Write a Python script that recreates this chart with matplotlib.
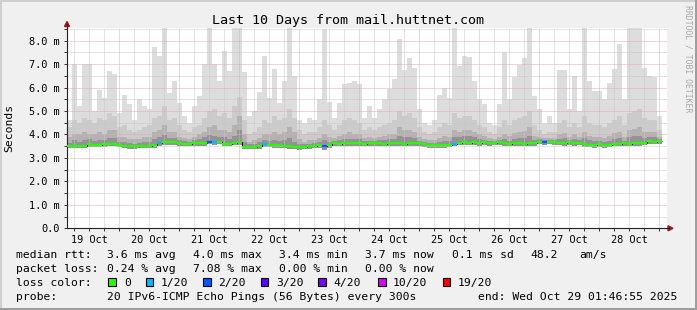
import numpy as np
import matplotlib.pyplot as plt
from matplotlib.patches import Rectangle, Polygon
from matplotlib.lines import Line2D

# ---- data (ms), 2-hour bins starting Oct 19 03:12 -------------------------
t0, step = 3.2, 2.0          # hours since Oct 19 00:00

median = [
    3.51, 3.51, 3.51, 3.51, 3.58, 3.57, 3.56, 3.58, 3.60, 3.60,
    3.57, 3.51, 3.50, 3.50, 3.51, 3.52, 3.52, 3.55, 3.64, 3.66,
    3.68, 3.66, 3.62, 3.60, 3.60, 3.63, 3.63, 3.64, 3.70, 3.68,
    3.70, 3.60, 3.60, 3.65, 3.70, 3.47, 3.47, 3.48, 3.50, 3.58,
    3.56, 3.55, 3.55, 3.53, 3.50, 3.47, 3.46, 3.48, 3.50, 3.52,
    3.55, 3.50, 3.55, 3.62, 3.60, 3.62, 3.62, 3.62, 3.63, 3.61,
    3.62, 3.64, 3.62, 3.60, 3.62, 3.63, 3.62, 3.61, 3.63, 3.62,
    3.62, 3.58, 3.55, 3.55, 3.54, 3.55, 3.57, 3.60, 3.65, 3.66,
    3.65, 3.67, 3.64, 3.66, 3.63, 3.65, 3.66, 3.62, 3.60, 3.64,
    3.62, 3.60, 3.63, 3.62, 3.70, 3.68, 3.70, 3.68, 3.65, 3.64,
    3.66, 3.62, 3.65, 3.58, 3.56, 3.55, 3.58, 3.55, 3.57, 3.60,
    3.60, 3.62, 3.60, 3.64, 3.62, 3.65, 3.72, 3.70, 3.72]

smoke_min = [
    3.41, 3.41, 3.42, 3.41, 3.47, 3.46, 3.45, 3.47, 3.49, 3.49,
    3.46, 3.41, 3.40, 3.40, 3.41, 3.42, 3.41, 3.44, 3.52, 3.55,
    3.57, 3.55, 3.51, 3.49, 3.50, 3.52, 3.52, 3.52, 3.58, 3.57,
    3.58, 3.49, 3.49, 3.54, 3.55, 3.37, 3.36, 3.38, 3.40, 3.47,
    3.45, 3.44, 3.44, 3.42, 3.39, 3.36, 3.35, 3.37, 3.39, 3.41,
    3.43, 3.34, 3.44, 3.51, 3.49, 3.51, 3.51, 3.51, 3.52, 3.50,
    3.51, 3.53, 3.51, 3.49, 3.51, 3.52, 3.51, 3.50, 3.52, 3.51,
    3.51, 3.47, 3.44, 3.44, 3.43, 3.44, 3.46, 3.49, 3.54, 3.55,
    3.54, 3.56, 3.53, 3.55, 3.52, 3.54, 3.55, 3.51, 3.49, 3.53,
    3.51, 3.49, 3.52, 3.51, 3.59, 3.57, 3.59, 3.57, 3.54, 3.53,
    3.55, 3.51, 3.54, 3.47, 3.45, 3.44, 3.47, 3.44, 3.46, 3.49,
    3.49, 3.51, 3.49, 3.53, 3.51, 3.54, 3.61, 3.59, 3.61]

smoke_p60 = [
    3.65, 3.75, 3.70, 3.78, 3.80, 3.72, 3.78, 3.75, 3.85, 3.85,
    3.68, 3.66, 3.62, 3.60, 3.64, 3.66, 3.68, 3.80, 3.88, 3.98,
    3.85, 3.86, 3.76, 3.72, 3.70, 3.76, 3.80, 3.88, 3.98, 3.95,
    3.90, 3.88, 3.82, 3.95, 4.20, 3.70, 3.58, 3.60, 3.66, 3.78,
    3.72, 3.78, 3.72, 3.75, 3.85, 3.70, 3.58, 3.58, 3.60, 3.62,
    3.70, 3.78, 3.68, 3.74, 3.76, 3.80, 3.82, 3.82, 3.80, 3.72,
    3.74, 3.74, 3.76, 3.76, 3.80, 3.82, 3.95, 3.88, 3.90, 3.85,
    3.74, 3.68, 3.64, 3.64, 3.68, 3.74, 3.72, 3.88, 3.88, 3.92,
    3.92, 3.88, 3.80, 3.78, 3.72, 3.72, 3.78, 3.82, 3.74, 3.80,
    3.84, 3.85, 3.92, 3.76, 3.80, 3.76, 3.78, 3.76, 3.82, 3.84,
    3.78, 3.82, 3.76, 3.85, 3.76, 3.72, 3.72, 3.70, 3.74, 3.80,
    3.85, 3.74, 3.90, 3.92, 3.95, 3.85, 3.90, 3.88, 3.82]

smoke_p75 = [
    3.90, 4.00, 4.00, 4.10, 4.00, 4.00, 4.10, 4.00, 4.20, 4.20,
    3.90, 3.90, 3.80, 3.80, 3.80, 3.90, 3.90, 4.10, 4.20, 4.40,
    4.10, 4.10, 3.90, 3.85, 3.80, 3.90, 4.00, 4.10, 4.30, 4.40,
    4.20, 4.20, 4.10, 4.40, 4.80, 4.00, 3.70, 3.75, 3.85, 4.00,
    4.00, 4.10, 4.00, 4.10, 4.30, 4.10, 3.80, 3.70, 3.75, 3.75,
    3.85, 4.00, 3.90, 3.85, 3.95, 4.00, 4.10, 4.00, 4.00, 3.85,
    3.90, 3.85, 3.90, 3.95, 4.00, 4.00, 4.30, 4.20, 4.20, 4.10,
    3.90, 3.80, 3.75, 3.75, 3.85, 3.95, 3.90, 4.20, 4.10, 4.20,
    4.20, 4.10, 4.00, 3.95, 3.85, 3.80, 3.90, 4.00, 3.95, 4.05,
    4.10, 4.15, 4.30, 3.95, 3.90, 3.85, 3.85, 3.85, 4.00, 4.05,
    3.90, 4.00, 3.90, 4.10, 3.95, 3.90, 3.90, 3.85, 3.95, 4.05,
    4.10, 3.90, 4.20, 4.25, 4.30, 4.10, 4.10, 4.10, 3.90]

smoke_p90 = [
    4.3, 4.6, 4.5, 4.7, 4.6, 4.5, 4.7, 4.6, 4.9, 4.8,
    4.3, 4.4, 4.2, 4.1, 4.2, 4.3, 4.4, 4.7, 4.8, 5.2,
    4.6, 4.7, 4.4, 4.2, 4.1, 4.3, 4.4, 4.7, 5.0, 5.1,
    4.8, 4.9, 4.7, 5.2, 5.6, 4.6, 4.0, 4.1, 4.3, 4.6,
    4.5, 4.8, 4.6, 4.7, 5.1, 4.7, 4.2, 4.0, 4.1, 4.1,
    4.3, 4.6, 4.4, 4.2, 4.4, 4.6, 4.7, 4.6, 4.5, 4.2,
    4.3, 4.2, 4.3, 4.4, 4.5, 4.6, 5.0, 4.8, 4.9, 4.7,
    4.3, 4.1, 4.0, 4.1, 4.3, 4.5, 4.4, 4.9, 4.7, 4.8,
    4.8, 4.6, 4.4, 4.3, 4.1, 4.0, 4.3, 4.6, 4.4, 4.6,
    4.7, 4.8, 5.0, 4.4, 4.2, 4.0, 4.1, 4.1, 4.5, 4.6,
    4.3, 4.5, 4.3, 4.8, 4.5, 4.4, 4.4, 4.3, 4.5, 4.6,
    4.8, 4.4, 4.9, 5.0, 5.1, 4.7, 4.6, 4.6, 4.2]

smoke_max = [
    4.60, 7.00, 5.20, 7.00, 7.00, 5.00, 5.90, 5.55, 6.70, 6.60,
    4.90, 5.70, 5.30, 4.60, 5.50, 5.20, 5.10, 7.75, 7.35, 8.55,
    5.75, 6.30, 5.35, 4.80, 4.50, 5.20, 5.65, 7.00, 8.55, 7.00,
    6.30, 7.55, 6.70, 8.55, 8.55, 6.65, 4.80, 5.00, 5.80, 7.35,
    5.55, 6.80, 5.35, 6.30, 8.55, 6.50, 4.60, 4.50, 4.70, 4.60,
    5.50, 8.50, 5.40, 4.70, 5.35, 6.15, 6.20, 6.30, 6.15, 4.70,
    5.20, 4.70, 5.10, 5.50, 5.95, 6.35, 8.05, 6.75, 7.25, 6.85,
    5.10, 4.50, 4.40, 4.60, 5.70, 6.00, 5.55, 8.55, 6.90, 7.35,
    7.30, 6.30, 5.50, 5.30, 4.50, 4.40, 5.30, 7.50, 5.50, 6.45,
    6.95, 7.25, 8.55, 5.65, 5.10, 4.50, 4.80, 4.50, 6.75, 6.75,
    5.10, 6.50, 5.00, 8.55, 6.30, 5.85, 5.85, 5.50, 6.20, 6.80,
    7.85, 5.50, 8.55, 8.55, 8.55, 6.85, 6.50, 6.45, 4.80]

loss_bins = [18, 28, 29, 39, 51, 77, 95]
loss_counts = [1, 2, 1, 1, 2, 1, 2]

day_labels = ["19 Oct", "20 Oct", "21 Oct", "22 Oct", "23 Oct",
              "24 Oct", "25 Oct", "26 Oct", "27 Oct", "28 Oct"]
y_labels = ["0.0", "1.0 m", "2.0 m", "3.0 m", "4.0 m",
            "5.0 m", "6.0 m", "7.0 m", "8.0 m"]

loss_levels = ["0", "1/20", "2/20", "3/20", "4/20", "10/20", "19/20"]
loss_thresh = [0, 1, 2, 3, 4, 10, 19]
loss_colors = ["#26ff00", "#00b8ff", "#0059ff", "#5e00ff", "#7e00ff",
               "#dd00ff", "#ff0000"]

rtt_stats = ["3.6 ms avg", "4.0 ms max", "3.4 ms min", "3.7 ms now",
             "0.1 ms sd", "48.2", "am/s"]
loss_stats = ["0.24 % avg", "7.08 % max", "0.00 % min", "0.00 % now"]
probe_text = "20 IPv6-ICMP Echo Pings (56 Bytes) every 300s"
end_text = "end: Wed Oct 29 01:46:55 2025"
title = "Last 10 Days from mail.huttnet.com"

# ---- figure ---------------------------------------------------------------
W, H = 697, 310
MONO = "DejaVu Sans Mono"
plt.rcParams["font.family"] = MONO
fig = plt.figure(figsize=(W / 100, H / 100), dpi=100, facecolor="#f0f0f0")

def fx(x): return x / W
def fy(y): return 1 - y / H

AX_L, AX_R, AX_T, AX_B = 67, 667, 28, 228.3
ax = fig.add_axes([fx(AX_L), fy(AX_B), (AX_R - AX_L) / W, (AX_B - AX_T) / H])
ax.set_facecolor("white")

n = len(median)
edges = t0 + step * np.arange(n + 1)
lo = np.array(smoke_min)

# smoke, light to dark
for top, col in [(smoke_max, "#dddddd"), (smoke_p90, "#cbcbcb"),
                 (smoke_p75, "#b2b2b2"), (smoke_p60, "#939393")]:
    ax.stairs(top, edges, baseline=lo, fill=True, color=col, lw=0, zorder=1)

# grid
GRAY, RED = "#c8c8c8", "#e8a8a8"
dots = (0, (1, 1))
for h in np.arange(0, 246, 6):
    ax.axvline(h, color=RED if h % 24 == 0 else GRAY, lw=0.72, ls=dots, zorder=1.5)
for v in np.arange(0.5, 8.6, 0.5):
    ax.axhline(v, color=RED if v % 1 == 0 else GRAY, lw=0.72, ls=dots, zorder=1.5)

# median, coloured by loss
loss = np.zeros(n, dtype=int)
loss[loss_bins] = loss_counts
cols = []
for c in loss:
    k = max(i for i, th in enumerate(loss_thresh) if c >= th)
    cols.append(loss_colors[k])
ax.stairs(median, edges, baseline=None, color="black", lw=0.7, zorder=2.5)
ax.hlines(median, edges[:-1], edges[1:], colors=cols, lw=1.6, zorder=3)

ax.set_xticks(np.arange(12, 241, 24), labels=day_labels)
ax.set_xticks(np.arange(0, 246, 6), minor=True)
ax.set_yticks(np.arange(0, 9, 1), labels=y_labels)
ax.set_yticks(np.arange(0.5, 8.6, 1), minor=True)
ax.set_xlim(3.2, 243.2)
ax.set_ylim(0, 8.54)
ax.tick_params(which="both", direction="out", length=2, width=0.7,
               labelsize=7.4, pad=2.5, color="#333333")
ax.tick_params(axis="y", pad=3)
for s in ("top", "right"):
    ax.spines[s].set_visible(False)
for s in ("left", "bottom"):
    ax.spines[s].set_color("#222222")
    ax.spines[s].set_linewidth(0.8)

# axis extensions + arrows
fig.add_artist(Line2D([fx(AX_L), fx(AX_L)], [fy(AX_T), fy(24)], color="#222222",
                      lw=0.8, transform=fig.transFigure))
fig.add_artist(Line2D([fx(AX_R), fx(669)], [fy(AX_B), fy(AX_B)], color="#222222",
                      lw=0.8, transform=fig.transFigure))
ARW = "#9b1c1c"
fig.add_artist(Polygon([(fx(64.5), fy(26.5)), (fx(69.5), fy(26.5)), (fx(67), fy(21.5))],
                       closed=True, color=ARW, transform=fig.transFigure))
fig.add_artist(Polygon([(fx(668), fy(225.8)), (fx(668), fy(230.8)), (fx(673), fy(228.3))],
                       closed=True, color=ARW, transform=fig.transFigure))

# 3d frame
for (x0, y0, w, h, c) in [(0, 0, W, 1.5, "#cfcfcf"), (0, 0, 1.5, H, "#cfcfcf"),
                          (0, H - 2, W, 2, "#9e9e9e"), (W - 2, 0, 2, H, "#9e9e9e")]:
    fig.add_artist(Rectangle((fx(x0), fy(y0 + h)), w / W, h / H, color=c, lw=0,
                             transform=fig.transFigure))

# titles
fig.text(fx(348.5), fy(24), title, ha="center", va="baseline", size=9.6)
fig.text(fx(9.5), fy(128), "Seconds", rotation=90, ha="center", va="center", size=8.2)
fig.text(fx(688), fy(59), "RRDTOOL / TOBI OETIKER", rotation=270, ha="center",
         va="center", size=5.9, color="#a8a8a8")

# legend
def txt(x, yb, s):
    fig.text(fx(x), fy(yb), s, ha="left", va="baseline", size=8.2)

rows = [258.3, 272.0, 285.7, 299.5]
txt(16, rows[0], "median rtt:")
for x, s in zip([107, 193, 279, 365, 452, 530, 579], rtt_stats):
    txt(x, rows[0], s)
txt(16, rows[1], "packet loss:")
for x, s in zip([107, 193, 279, 365], loss_stats):
    txt(x, rows[1], s)
txt(16, rows[2], "loss color:")
box_x = [108, 145.7, 203, 260.7, 318, 378, 442.7]
lab_x = [124, 161, 218, 276, 333, 392.7, 457.3]
for bx, lx, c, s in zip(box_x, lab_x, loss_colors, loss_levels):
    fig.add_artist(Rectangle((fx(bx), fy(285.7)), 7.5 / W, 8 / H, facecolor=c,
                             edgecolor="black", lw=0.8, transform=fig.transFigure))
    txt(lx, rows[2], s)
txt(16, rows[3], "probe:")
txt(107, rows[3], probe_text)
txt(478, rows[3], end_text)

fig.savefig("out.png", dpi=100, facecolor=fig.get_facecolor())
